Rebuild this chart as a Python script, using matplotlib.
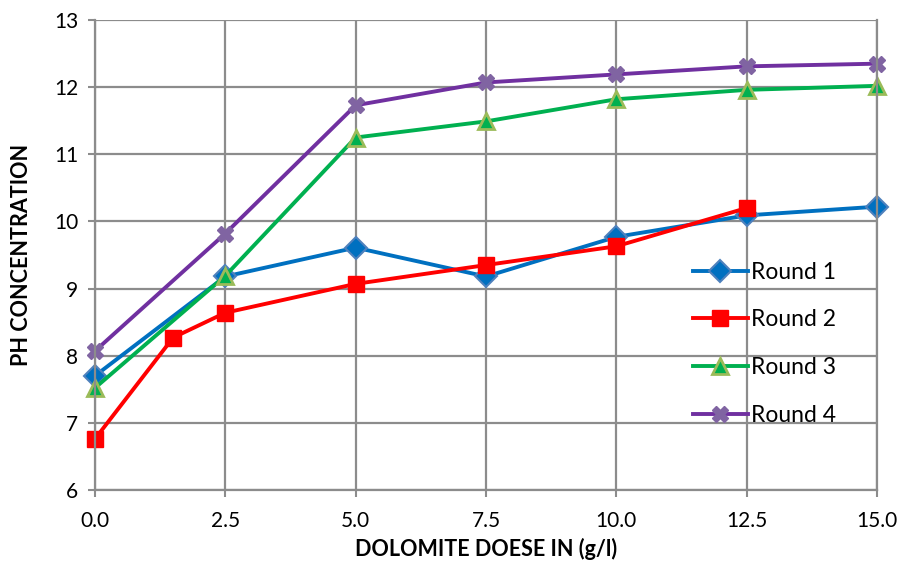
import matplotlib.pyplot as plt

plt.rcParams['font.family'] = ['Lato', 'DejaVu Sans']

# dose values (g/l) and pH readings for each round
dose = [0.0, 2.5, 5.0, 7.5, 10.0, 12.5, 15.0]
dose_r2 = [0.0, 1.5, 2.5, 5.0, 7.5, 10.0, 12.5]

round1 = [7.70, 9.18, 9.61, 9.18, 9.77, 10.09, 10.22]
round2 = [6.76, 8.27, 8.64, 9.07, 9.35, 9.63, 10.20]
round3 = [7.52, 9.19, 11.25, 11.49, 11.82, 11.96, 12.02]
round4 = [8.07, 9.82, 11.73, 12.07, 12.19, 12.31, 12.35]

xticks = [0.0, 2.5, 5.0, 7.5, 10.0, 12.5, 15.0]
yticks = [6, 7, 8, 9, 10, 11, 12, 13]

fig = plt.figure(figsize=(9.02, 5.61), dpi=100)
ax = fig.add_axes([0.1053, 0.1266, 0.867, 0.8377])

ax.plot(dose, round1, color='#0070C0', lw=2.8, marker='D', ms=11,
        mfc='#0070C0', mec='#4F81BD', mew=1.5, label='Round 1', clip_on=False)
ax.plot(dose_r2, round2, color='#FF0000', lw=2.8, marker='s', ms=11,
        mfc='#FF0000', mec='#FF0000', label='Round 2', clip_on=False)
ax.plot(dose, round3, color='#00B050', lw=2.8, marker='^', ms=11,
        mfc='#00B050', mec='#9BBB59', mew=2, label='Round 3', clip_on=False)
ax.plot(dose, round4, color='#7030A0', lw=2.8, marker='X', ms=12,
        mfc='#8064A2', mec='#8064A2', label='Round 4', clip_on=False)

ax.set_xlim(0, 15)
ax.set_ylim(6, 13)
ax.set_xticks(xticks)
ax.set_xticklabels([f'{v:.1f}' for v in xticks])
ax.set_yticks(yticks)
ax.tick_params(labelsize=15, length=5, width=1.5, color='#8c8c8c', pad=7)
ax.tick_params(axis='x', pad=10)
ax.grid(True, color='#8c8c8c', lw=1.6)
ax.set_axisbelow(True)
for side in ['left', 'right', 'top', 'bottom']:
    ax.spines[side].set_color('#8c8c8c')
    ax.spines[side].set_linewidth(1.6)
ax.spines['top'].set_visible(False)

ax.set_xlabel('DOLOMITE DOESE IN (g/l)', fontsize=15.5, fontweight='bold', labelpad=5)
ax.set_ylabel('PH CONCENTRATION', fontsize=15.5, fontweight='bold', labelpad=16)

ax.legend(loc='upper left', bbox_to_anchor=(0.738, 0.53), frameon=False,
          fontsize=16.5, handlelength=2.4, handletextpad=0.15, labelspacing=1.17)

fig.savefig('out.png', dpi=100)
